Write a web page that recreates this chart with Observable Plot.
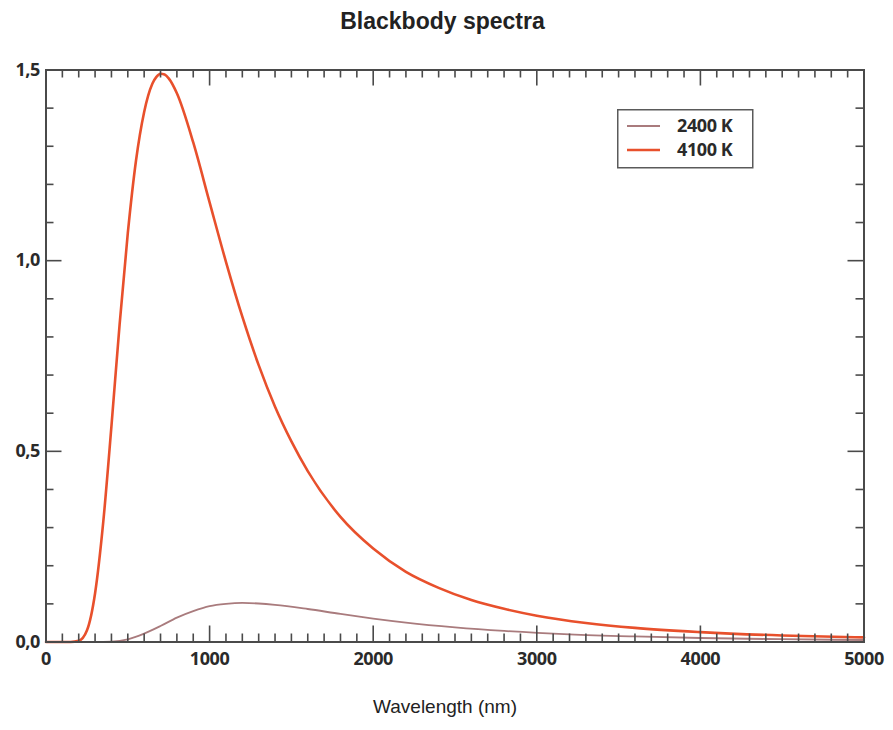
<!DOCTYPE html>
<html><head><meta charset="utf-8">
<script src="https://cdn.jsdelivr.net/npm/d3@7"></script>
<script src="https://cdn.jsdelivr.net/npm/@observablehq/plot@0.6"></script>
<style>
html,body{margin:0;padding:0;background:#fff}
body{width:893px;height:730px;position:relative;overflow:hidden;font-family:"Liberation Sans",Arial,sans-serif;color:#222}
#title{position:absolute;left:0;top:10px;width:885px;text-align:center;font-weight:bold;font-size:23px;line-height:23px}
#xlabel{position:absolute;left:0;top:697px;width:890px;text-align:center;font-size:19px;line-height:19px}
#chart{position:absolute;left:0;top:50px}
#legend{position:absolute;left:617px;top:109px}
</style>
</head><body>
<div id="title">Blackbody spectra</div>
<div id="chart"></div>
<div id="legend"></div>
<div id="xlabel">Wavelength (nm)</div>
<script>
// Series
const seriesNames = ["2400 K", "4100 K"];
const seriesColors = ["#a97b7d", "#e8502c"];
const wl2400 = [0, 300, 400, 500, 600, 700, 800, 900, 1000, 1100, 1200, 1300, 1400, 1600, 1800, 2000, 2200, 2500, 2800, 3200, 3600, 4000, 4500, 5000];
const val2400 = [0, 0, 0.001, 0.007, 0.022, 0.042, 0.064, 0.081, 0.094, 0.100, 0.1025, 0.101, 0.0975, 0.0865, 0.0735, 0.0615, 0.051, 0.0385, 0.029, 0.020, 0.0145, 0.0105, 0.0073, 0.0052];
const wl4100 = [0, 150, 200, 250, 300, 350, 400, 450, 500, 550, 600, 650, 675, 700, 725, 750, 800, 900, 1000, 1100, 1200, 1300, 1400, 1500, 1600, 1800, 2000, 2200, 2400, 2600, 2800, 3000, 3300, 3600, 4000, 4500, 5000];
const val4100 = [0, 0, 0.003, 0.030, 0.128, 0.315, 0.566, 0.833, 1.072, 1.262, 1.390, 1.464, 1.482, 1.490, 1.488, 1.478, 1.439, 1.310, 1.153, 0.997, 0.853, 0.726, 0.617, 0.526, 0.448, 0.328, 0.245, 0.184, 0.142, 0.110, 0.087, 0.069, 0.050, 0.037, 0.026, 0.017, 0.012];
// Ticks
const xTicks = [0, 1000, 2000, 3000, 4000, 5000];
const xTickLabels = ["0", "1000", "2000", "3000", "4000", "5000"];
const yTicks = [0, 0.5, 1.0, 1.5];
const yTickLabels = ["0,0", "0,5", "1,0", "1,5"];

const rows = [
  ...wl2400.map((w, i) => ({wl: w, v: val2400[i], s: seriesNames[0]})),
  ...wl4100.map((w, i) => ({wl: w, v: val4100[i], s: seriesNames[1]}))
];

const W = 893, H = 635;
const mL = 45.5, mR = 29.5, mT = 19.5, mB = 43.5;
const xDom = [0, 5000], yDom = [0, 1.5];
const pxX = (W - mL - mR) / (xDom[1] - xDom[0]);
const pxY = (H - mT - mB) / (yDom[1] - yDom[0]);
const minorLen = 8, majorLen = 16;
const xMinor = d3.range(100, 5000, 100).filter(d => d % 1000 !== 0);
const xMajor = [1000, 2000, 3000, 4000];
const yMinor = d3.range(1, 15).map(d => d / 10).filter(d => Math.abs(d - 0.5) > 1e-9 && Math.abs(d - 1) > 1e-9);
const yMajor = [0.5, 1.0];
const tc = "#4a4a4a";

const ticksX = (vals, len) => [
  Plot.ruleX(vals, {x: d => d, y1: yDom[0], y2: yDom[0] + len / pxY, stroke: tc, strokeWidth: 1.6}),
  Plot.ruleX(vals, {x: d => d, y1: yDom[1], y2: yDom[1] - len / pxY, stroke: tc, strokeWidth: 1.6})
];
const ticksY = (vals, len) => [
  Plot.ruleY(vals, {y: d => d, x1: xDom[0], x2: xDom[0] + len / pxX, stroke: tc, strokeWidth: 1.6}),
  Plot.ruleY(vals, {y: d => d, x1: xDom[1], x2: xDom[1] - len / pxX, stroke: tc, strokeWidth: 1.6})
];

const chart = Plot.plot({
  width: W, height: H,
  marginLeft: mL, marginRight: mR, marginTop: mT, marginBottom: mB,
  style: {fontFamily: "'Open Sans', sans-serif", fontSize: "18px", fontWeight: "bold", color: "#2a2a2a", background: "transparent", letterSpacing: "-0.4px"},
  x: {domain: xDom},
  y: {domain: yDom},
  color: {domain: seriesNames, range: seriesColors},
  marks: [
    Plot.line(rows.filter(d => d.s === seriesNames[0]), {x: "wl", y: "v", stroke: "s", strokeWidth: 1.8, curve: "monotone-x"}),
    Plot.line(rows.filter(d => d.s === seriesNames[1]), {x: "wl", y: "v", stroke: "s", strokeWidth: 2.6, curve: "monotone-x"}),
    ...ticksX(xMinor, minorLen), ...ticksX(xMajor, majorLen),
    ...ticksY(yMinor, minorLen), ...ticksY(yMajor, majorLen),
    Plot.frame({stroke: tc, strokeWidth: 2}),
    Plot.axisX(xTicks, {anchor: "bottom", tickSize: 0, tickPadding: 10, tickFormat: d => xTickLabels[xTicks.indexOf(d)], label: null}),
    Plot.axisY(yTicks, {anchor: "left", tickSize: 0, tickPadding: 6, tickFormat: d => yTickLabels[yTicks.indexOf(d)], label: null})
  ]
});
document.getElementById("chart").appendChild(chart);

// Legend
const lg = d3.select("#legend").append("svg").attr("width", 140).attr("height", 62);
lg.append("rect").attr("x", 0.75).attr("y", 0.75).attr("width", 135).attr("height", 58)
  .attr("fill", "#fff").attr("stroke", "#5a5a5a").attr("stroke-width", 1.5);
seriesNames.forEach((n, i) => {
  const y = 17 + i * 24;
  lg.append("line").attr("x1", 10).attr("x2", 43).attr("y1", y).attr("y2", y)
    .attr("stroke", seriesColors[i]).attr("stroke-width", i ? 2.6 : 1.8);
  lg.append("text").attr("x", 60).attr("y", y).attr("dy", "0.36em")
    .attr("font-family", "'Open Sans', sans-serif").attr("font-weight", "bold").attr("font-size", 18)
    .attr("letter-spacing", "-0.4px").attr("fill", "#2a2a2a").text(n);
});
</script>
</body></html>
